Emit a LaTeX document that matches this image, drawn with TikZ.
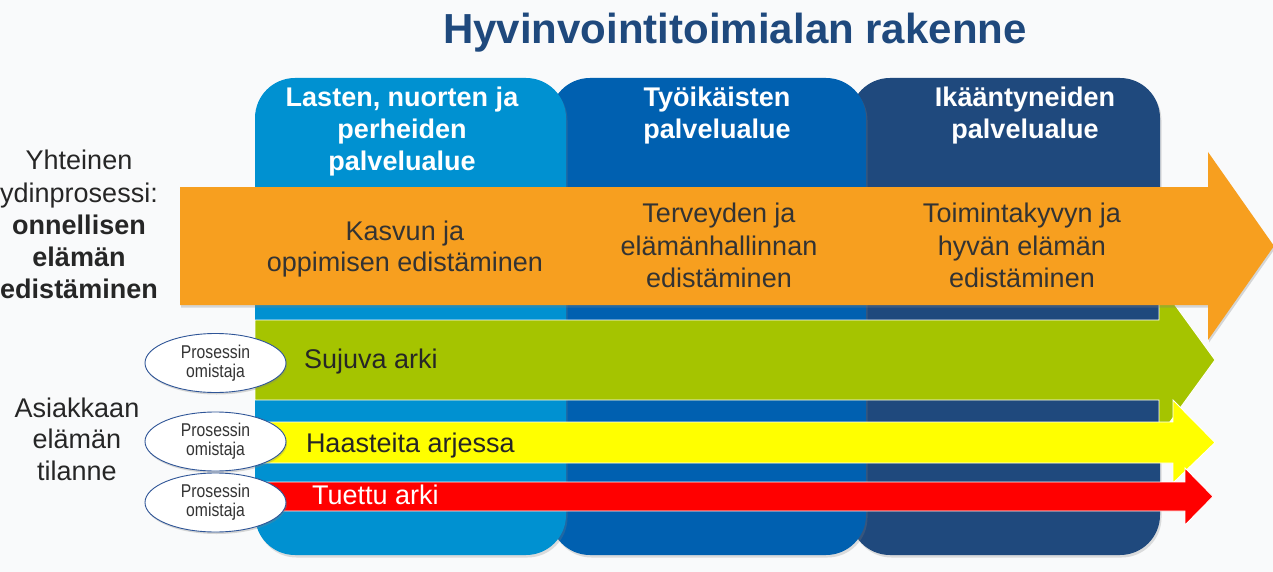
\documentclass[tikz,border=0pt]{standalone}
\usepackage{fontspec}
\setmainfont{Liberation Sans}
\newfontfamily\narrowfont[FakeStretch=0.85]{Liberation Sans}
\usetikzlibrary{shadows,shapes.geometric}
\definecolor{bgc}{HTML}{F9FAFB}
\definecolor{colA}{HTML}{0091D1}
\definecolor{colB}{HTML}{0060B0}
\definecolor{colC}{HTML}{1F497D}
\definecolor{titlec}{HTML}{1F497D}
\definecolor{orangec}{HTML}{F79F1F}
\definecolor{greenc}{HTML}{A5C400}
\definecolor{yellowc}{HTML}{FFFF00}
\definecolor{redc}{HTML}{FF0000}
\definecolor{ellc}{HTML}{2F5597}
\definecolor{txtc}{HTML}{262626}
\definecolor{txtd}{HTML}{333333}
\begin{document}
\begin{tikzpicture}[x=1pt,y=-1pt,
  every node/.style={inner sep=0pt, outer sep=0pt},
  colbox/.style={rounded corners=40pt, drop shadow={opacity=0.25, shadow xshift=1.5pt, shadow yshift=-2.5pt}},
  hdr/.style={anchor=base, text=white, font=\fontsize{27}{32}\selectfont\bfseries},
  otxt/.style={anchor=base, text=txtd, font=\fontsize{27}{32}\selectfont},
  ltxt/.style={anchor=base, text=txtc, font=\fontsize{27}{32}\selectfont},
  btxt/.style={anchor=base west, font=\fontsize{27}{32}\selectfont},
  band/.style={draw=white, line width=0.9pt},
  owner/.style={ellipse, draw=ellc, line width=0.9pt, fill=white, minimum width=141pt, minimum height=59pt, align=center, text=txtd, font=\narrowfont\fontsize{18.5}{19}\selectfont, drop shadow={opacity=0.3, shadow xshift=1pt, shadow yshift=-2pt}}
]
\useasboundingbox (0,0) rectangle (1273,572);
\fill[bgc] (0,0) rectangle (1273,572);

% columns
\fill[colbox, fill=colC] (850,78) rectangle (1160,555);
\fill[colbox, fill=colB] (550,78) rectangle (866,555);
\fill[colbox, fill=colA] (255,78) rectangle (566,555);

% bands
\path[band, fill=greenc] (255,320) -- (1159,320) -- (1159,283) -- (1215,360) -- (1159,437) -- (1159,400) -- (255,400) -- cycle;
\fill[orangec, drop shadow={opacity=0.3, shadow xshift=1pt, shadow yshift=-2.5pt}] (180,187) -- (1208,187) -- (1208,152) -- (1274,246) -- (1208,340) -- (1208,305) -- (180,305) -- cycle;
\path[band, fill=yellowc] (262,422) -- (1173,422) -- (1173,400) -- (1215,442.5) -- (1173,483) -- (1173,463) -- (262,463) -- cycle;
\path[band, fill=redc] (262,482) -- (1185,482) -- (1185,468) -- (1213,496.5) -- (1185,525) -- (1185,511) -- (262,511) -- cycle;

% owners
\node[owner] (o1) at (215.5,363) {Prosessin\\omistaja};
\node[owner] (o2) at (215.5,441.5) {Prosessin\\omistaja};
\node[owner] (o3) at (215.5,502.5) {Prosessin\\omistaja};

% title
\node[anchor=base, text=titlec, font=\fontsize{42}{48}\selectfont\bfseries] (title) at (735,44) {Hyvinvointitoimialan rakenne};

% headers
\node[hdr] (h1a) at (402,107) {Lasten, nuorten ja};
\node[hdr] (h1b) at (402,139) {perheiden};
\node[hdr] (h1c) at (402,171) {palvelualue};
\node[hdr] (h2a) at (717,107) {Työikäisten};
\node[hdr] (h2b) at (717,139) {palvelualue};
\node[hdr] (h3a) at (1025,107) {Ikääntyneiden};
\node[hdr] (h3b) at (1025,139) {palvelualue};

% orange texts
\node[otxt] (k1) at (405,240) {Kasvun ja};
\node[otxt] (k2) at (405,271) {oppimisen edistäminen};
\node[otxt] (t1) at (719,222) {Terveyden ja};
\node[otxt] (t2) at (719,255) {elämänhallinnan};
\node[otxt] (t3) at (719,287) {edistäminen};
\node[otxt] (m1) at (1022,222) {Toimintakyvyn ja};
\node[otxt] (m2) at (1022,255) {hyvän elämän};
\node[otxt] (m3) at (1022,287) {edistäminen};

% left texts
\node[ltxt] (y1) at (79,170) {Yhteinen};
\node[ltxt] (y2) at (79,202) {ydinprosessi:};
\node[ltxt, font=\fontsize{27}{32}\selectfont\bfseries] (y3) at (79,234) {onnellisen};
\node[ltxt, font=\fontsize{27}{32}\selectfont\bfseries] (y4) at (79,266) {elämän};
\node[ltxt, font=\fontsize{27}{32}\selectfont\bfseries] (y5) at (79,298) {edistäminen};
\node[ltxt] (a1) at (77,417) {Asiakkaan};
\node[ltxt] (a2) at (77,448) {elämän};
\node[ltxt] (a3) at (77,480) {tilanne};

% band texts
\node[btxt, text=txtc] (s1) at (304,368) {Sujuva arki};
\node[btxt, text=txtc] (s2) at (306,452) {Haasteita arjessa};
\node[btxt, text=white] (s3) at (312,504) {Tuettu arki};
\end{tikzpicture}
\end{document}
